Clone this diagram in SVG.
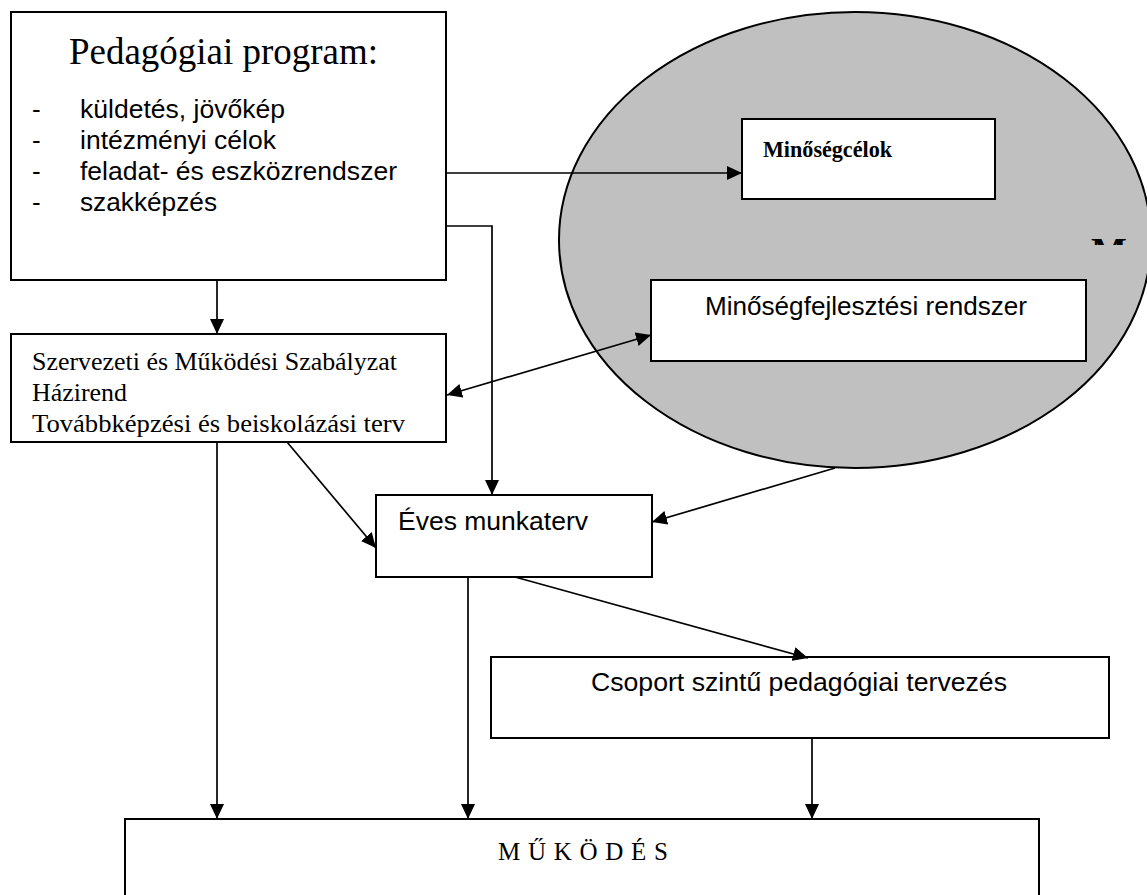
<svg xmlns="http://www.w3.org/2000/svg" width="1147" height="895" viewBox="0 0 1147 895">
  <style>
    .box { fill: #ffffff; stroke: #000000; stroke-width: 2; }
    .area { fill: #c0c0c0; stroke: #000000; stroke-width: 2; }
    .wire { fill: none; stroke: #000000; stroke-width: 1.7; }
    .sans { font-family: "Liberation Sans", Arial, sans-serif; font-size: 26px; fill: #000000; }
    .serif { font-family: "Liberation Serif", "Times New Roman", serif; fill: #000000; }
  </style>
  <defs>
    <marker id="head" viewBox="0 0 15 14" markerUnits="userSpaceOnUse" markerWidth="15" markerHeight="14" refX="15" refY="7" orient="auto-start-reverse">
      <path d="M0,0 L15,7 L0,14 Z" fill="#000000"/>
    </marker>
    <clipPath id="szmszClip">
      <rect x="12" y="335" width="433" height="106"/>
    </clipPath>
    <clipPath id="mClip">
      <rect x="1085" y="238" width="50" height="7"/>
    </clipPath>
  </defs>

  <!-- quality management area -->
  <g id="quality-area">
    <ellipse class="area" cx="855" cy="240" rx="296" ry="228"/>
    <g clip-path="url(#mClip)">
      <text class="serif" x="1091" y="264" font-size="38" font-weight="bold">M</text>
    </g>
  </g>

  <!-- pedagogical programme -->
  <g id="pedagogiai-program">
    <rect class="box" x="11" y="12" width="435" height="268"/>
    <text class="serif" x="69" y="64" font-size="37" textLength="309" lengthAdjust="spacingAndGlyphs">Pedagógiai program:</text>
    <text class="sans" x="32" y="118">-</text>
    <text class="sans" x="80" y="118" textLength="205" lengthAdjust="spacingAndGlyphs">küldetés, jövőkép</text>
    <text class="sans" x="32" y="149">-</text>
    <text class="sans" x="80" y="149" textLength="196" lengthAdjust="spacingAndGlyphs">intézményi célok</text>
    <text class="sans" x="32" y="180">-</text>
    <text class="sans" x="80" y="180" textLength="317" lengthAdjust="spacingAndGlyphs">feladat- és eszközrendszer</text>
    <text class="sans" x="32" y="211">-</text>
    <text class="sans" x="80" y="211" textLength="137" lengthAdjust="spacingAndGlyphs">szakképzés</text>
  </g>

  <!-- quality goals -->
  <g id="minosegcelok">
    <rect class="box" x="742" y="119" width="253" height="80"/>
    <text class="serif" x="763" y="157" font-size="24" font-weight="bold" textLength="129" lengthAdjust="spacingAndGlyphs">Minőségcélok</text>
  </g>

  <!-- quality development system -->
  <g id="minosegfejlesztesi-rendszer">
    <rect class="box" x="651" y="280" width="435" height="81"/>
    <text class="sans" x="705" y="315" textLength="322" lengthAdjust="spacingAndGlyphs">Minőségfejlesztési rendszer</text>
  </g>

  <!-- rules and regulations -->
  <g id="szmsz">
    <rect class="box" x="11" y="334" width="435" height="108"/>
    <g clip-path="url(#szmszClip)">
      <text class="serif" x="32" y="370" font-size="26" textLength="365" lengthAdjust="spacingAndGlyphs">Szervezeti és Működési Szabályzat</text>
      <text class="serif" x="32" y="401" font-size="26" textLength="95" lengthAdjust="spacingAndGlyphs">Házirend</text>
      <text class="serif" x="32" y="432" font-size="26" textLength="373" lengthAdjust="spacingAndGlyphs">Továbbképzési és beiskolázási terv</text>
    </g>
  </g>

  <!-- annual work plan -->
  <g id="eves-munkaterv">
    <rect class="box" x="376" y="495" width="276" height="82"/>
    <text class="sans" x="398" y="530" textLength="190" lengthAdjust="spacingAndGlyphs">Éves munkaterv</text>
  </g>

  <!-- group-level planning -->
  <g id="csoport-tervezes">
    <rect class="box" x="491" y="657" width="618" height="81"/>
    <text class="sans" x="591" y="691" textLength="416" lengthAdjust="spacingAndGlyphs">Csoport szintű pedagógiai tervezés</text>
  </g>

  <!-- operation -->
  <g id="mukodes">
    <rect class="box" x="125" y="819" width="914" height="90"/>
    <text class="serif" x="498" y="860" font-size="25" textLength="170" lengthAdjust="spacing">MŰKÖDÉS</text>
  </g>

  <!-- connectors -->
  <g id="connectors">
    <line class="wire" x1="446" y1="173" x2="742" y2="173" marker-end="url(#head)"/>
    <polyline class="wire" points="446,226 492,226 492,495" marker-end="url(#head)"/>
    <line class="wire" x1="217" y1="280" x2="217" y2="334" marker-end="url(#head)"/>
    <line class="wire" x1="447" y1="395" x2="651" y2="335" marker-start="url(#head)" marker-end="url(#head)"/>
    <line class="wire" x1="217" y1="442" x2="217" y2="819" marker-end="url(#head)"/>
    <line class="wire" x1="287" y1="442" x2="376" y2="548" marker-end="url(#head)"/>
    <line class="wire" x1="835" y1="468" x2="652" y2="522" marker-end="url(#head)"/>
    <line class="wire" x1="468" y1="577" x2="468" y2="819" marker-end="url(#head)"/>
    <line class="wire" x1="515" y1="577" x2="808" y2="658" marker-end="url(#head)"/>
    <line class="wire" x1="812" y1="738" x2="812" y2="819" marker-end="url(#head)"/>
  </g>
</svg>
